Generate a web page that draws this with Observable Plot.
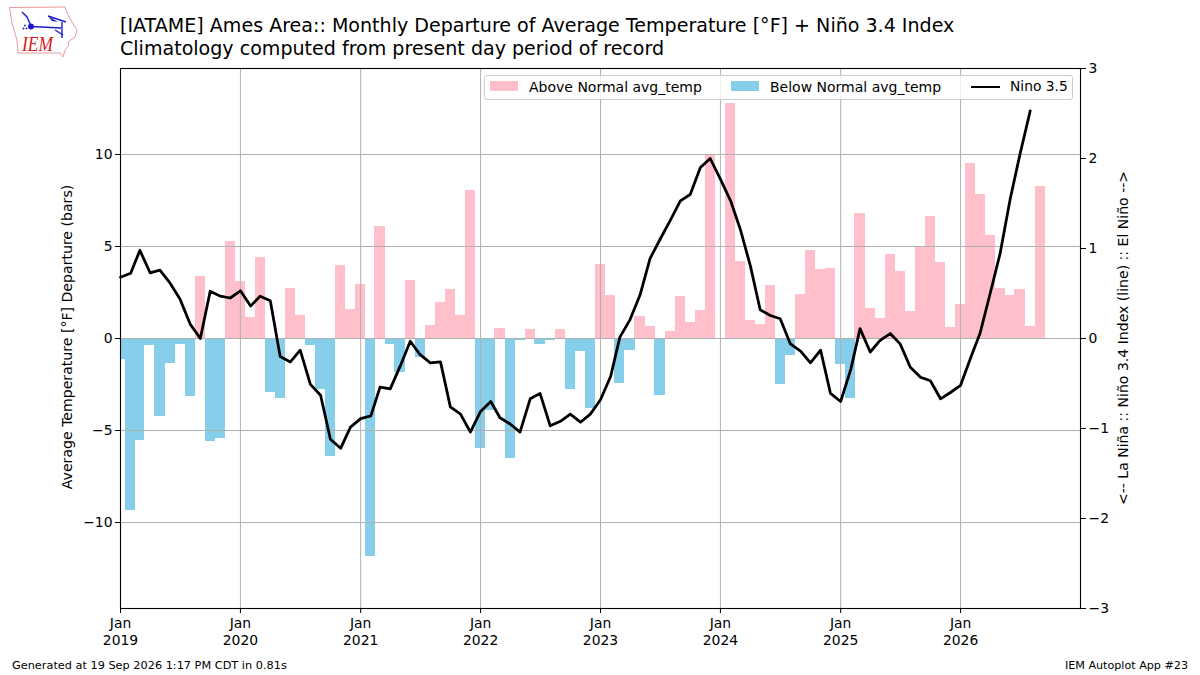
<!DOCTYPE html>
<html><head><meta charset="utf-8">
<script src="https://cdn.jsdelivr.net/npm/d3@7"></script>
<script src="https://cdn.jsdelivr.net/npm/@observablehq/plot@0.6"></script>
<style>
html,body{margin:0;padding:0;background:#fff;}
body{width:1200px;height:675px;position:relative;overflow:hidden;font-family:"DejaVu Sans",sans-serif;color:#000;}
.t{position:absolute;white-space:nowrap;line-height:1;}
#legend{position:absolute;left:484px;top:75px;width:589px;height:25px;background:rgba(255,255,255,.8);border:1px solid #ccc;border-radius:3px;box-sizing:border-box;}
.sw{position:absolute;top:81px;width:28px;height:10px;}
svg.plot text{font-family:"DejaVu Sans",sans-serif;}
</style></head><body>
<div id="chart" style="position:absolute;left:0;top:0"></div>
<svg id="logo" width="80" height="60" style="position:absolute;left:0;top:0" viewBox="0 0 80 60">
<path d="M9.5 7.5 L65 7 L68 15 L72 22 L77 30 L75 37 L68 42 L69 45 L65 50 L63 57 L60 53 L18 53 L17 40 L12 23 Z" fill="#fff" stroke="#e89a9a" stroke-width="1"/>
<g stroke="#1c1cc8" fill="#1c1cc8">
<path d="M31 26.5 L61 28 M62 22 L62 38 M22 12 L27 17 L31 26 M48 16 L66 22" fill="none" stroke-width="1.4"/>
<path d="M48 16 L58 22 L52 21 Z" stroke="none"/>
<circle cx="31" cy="26.5" r="3" stroke="none"/>
<path d="M55 30 L63 35" fill="none" stroke-width="1.2"/>
<circle cx="25" cy="25.5" r="0.9" stroke="none"/><circle cx="23.5" cy="28.5" r="0.9" stroke="none"/><circle cx="26.5" cy="28.5" r="0.9" stroke="none"/>
</g>
<text x="22" y="51" font-family="Liberation Serif" font-style="italic" font-size="20" textLength="31" lengthAdjust="spacingAndGlyphs" fill="#d42020">IEM</text>
</svg>
<div class="t" id="title1" style="left:120px;top:15.5px;font-size:19.07px">[IATAME] Ames Area:: Monthly Departure of Average Temperature [°F] + Niño 3.4 Index</div>
<div class="t" id="title2" style="left:120px;top:39px;font-size:19.07px">Climatology computed from present day period of record</div>
<div id="legend"></div>
<div class="sw" style="left:490px;background:#ffc0cb"></div>
<div class="t" style="left:529px;top:79.5px;font-size:14px">Above Normal avg_temp</div>
<div class="sw" style="left:731px;background:#87ceeb"></div>
<div class="t" style="left:770px;top:79.5px;font-size:14px">Below Normal avg_temp</div>
<div class="sw" style="left:971px;top:85.5px;width:29px;height:2.78px;background:#000"></div>
<div class="t" style="left:1010px;top:79.5px;font-size:13.8px">Nino 3.5</div>
<div class="t" style="left:12px;top:660px;font-size:11.3px">Generated at 19 Sep 2026 1:17 PM CDT in 0.81s</div>
<div class="t" style="right:12px;top:660px;font-size:11.15px">IEM Autoplot App #23</div>
<script>
const startYear = 2019;
const departure = [
 -1.14,-9.35,-5.52,-0.38,-4.24,-1.36,-0.33,-3.15,3.37,-5.6,-5.43,5.27,
 3.1,1.16,4.4,-2.93,-3.26,2.73,1.27,-0.38,-2.77,-6.41,3.97,1.58,
 2.95,-11.85,6.09,-0.33,-1.85,3.16,-1.03,0.71,1.96,2.66,1.27,8.04,
 -5.95,-3.92,0.55,-6.52,-0.1,0.48,-0.33,-0.1,0.48,-2.77,-0.72,-3.8,
 4.02,2.34,-2.43,-0.65,1.2,0.65,-3.1,0.38,2.28,0.87,1.52,9.95,
 0.0,12.75,4.18,0.98,0.76,2.88,-2.5,-0.92,2.39,4.78,3.75,3.8,
 -1.41,-3.26,6.79,1.63,1.09,4.57,3.64,1.47,4.95,6.63,4.13,0.6,
 1.85,9.51,7.83,5.6,2.72,2.34,2.66,0.65,8.26
];
const nino = [
 0.68,0.725,0.98,0.73,0.76,0.615,0.44,0.16,0.0,0.525,0.47,0.45,
 0.53,0.36,0.47,0.42,-0.2,-0.26,-0.13,-0.51,-0.63,-1.12,-1.22,-0.985,
 -0.89,-0.86,-0.54,-0.56,-0.31,-0.03,-0.18,-0.27,-0.26,-0.76,-0.84,-1.04,
 -0.81,-0.7,-0.88,-0.95,-1.04,-0.67,-0.61,-0.97,-0.92,-0.84,-0.93,-0.84,
 -0.68,-0.42,0.015,0.21,0.48,0.89,1.1,1.31,1.53,1.6,1.9,2.0,
 1.77,1.53,1.22,0.81,0.32,0.255,0.22,-0.06,-0.14,-0.27,-0.13,-0.61,
 -0.7,-0.34,0.11,-0.15,-0.02,0.055,-0.06,-0.32,-0.43,-0.47,-0.67,-0.6,
 -0.52,-0.21,0.055,0.5,0.94,1.55,2.05,2.53
];
const tempTicks = [-10,-5,0,5,10];
const ninoTicks = [-3,-2,-1,0,1,2,3];
const yearTicks = d3.range(2019,2027);
const tempLimit = 14.67, ninoLimit = 3;
const k = tempLimit/ninoLimit;
const barDays = 31, dayMs = 864e5;
const monthDate = i => new Date(Date.UTC(startYear,i,1));
const bars = departure.map((v,i)=>({d:monthDate(i),v,
  x1:new Date(+monthDate(i)-barDays/2*dayMs),x2:new Date(+monthDate(i)+barDays/2*dayMs)}));
const linePts = nino.map((v,i)=>({d:monthDate(i),v:v*k}));
const fmtY = v => v<0 ? "\u2212"+Math.abs(v) : String(v);
const grid = "#b0b0b0";
const fs = 13.9;
const plot = Plot.plot({
  width:1200,height:675,marginTop:68,marginBottom:67,marginLeft:120,marginRight:120,
  style:{background:"transparent",fontFamily:"DejaVu Sans",fontSize:fs+"px",color:"#000",overflow:"visible"},
  x:{type:"utc",domain:[new Date(Date.UTC(2019,0,1)),new Date(Date.UTC(2027,0,1))]},
  y:{domain:[-tempLimit,tempLimit]},
  marks:[
    Plot.rectY(bars,{x1:"x1",x2:"x2",y1:0,y2:"v",fill:d=>d.v>=0?"#ffc0cb":"#87ceeb",clip:"frame",shapeRendering:"crispEdges"}),
    Plot.ruleY(tempTicks,{stroke:grid,strokeWidth:1}),
    Plot.ruleX(yearTicks.map(y=>new Date(Date.UTC(y,0,1))),{stroke:grid,strokeWidth:1}),
    Plot.line(linePts,{x:"d",y:"v",stroke:"#000",strokeWidth:2.78,curve:"linear",strokeLinejoin:"round"}),
    Plot.frame({stroke:"#000",strokeWidth:1.1}),
    Plot.axisY(tempTicks,{anchor:"left",label:null,tickSize:5,tickPadding:3,tickFormat:fmtY,fontSize:fs,stroke:"#000"}),
    Plot.axisY(ninoTicks.map(v=>v*k),{anchor:"right",label:null,tickSize:5,tickPadding:3,tickFormat:v=>fmtY(Math.round(v/k)),fontSize:fs,stroke:"#000"}),
    Plot.axisX(yearTicks.map(y=>new Date(Date.UTC(y,0,1))),{anchor:"bottom",label:null,tickSize:5,tickPadding:3,fontSize:fs,lineHeight:1.2,tickFormat:d=>"Jan\n"+d.getUTCFullYear(),stroke:"#000"}),
    Plot.text(["Average Temperature [\u00b0F] Departure (bars)"],{frameAnchor:"left",dx:-53,dy:-1.5,rotate:-90,textAnchor:"middle",fontSize:14.1,fill:"#000"}),
    Plot.text(["<-- La Ni\u00f1a :: Ni\u00f1o 3.4 Index (line) :: El Ni\u00f1o -->"],{frameAnchor:"right",dx:43,dy:-0.5,rotate:-90,textAnchor:"middle",fontSize:14.05,fill:"#000"})
  ]
});
document.getElementById("chart").appendChild(plot);
</script>
</body></html>
